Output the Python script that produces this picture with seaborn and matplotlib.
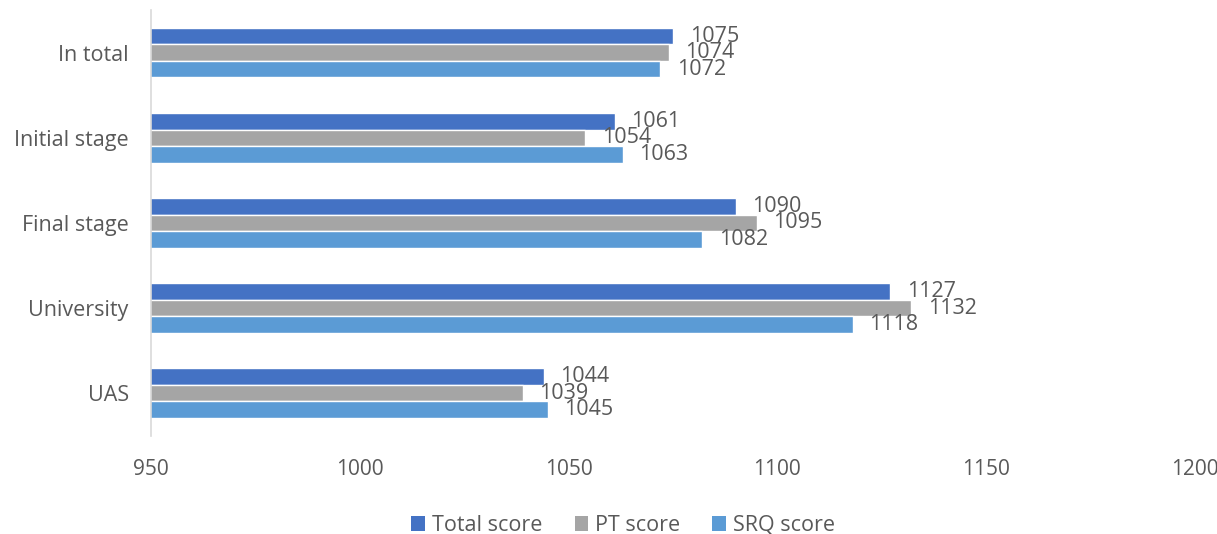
import matplotlib
matplotlib.use("Agg")
import matplotlib.pyplot as plt
import seaborn as sns
import pandas as pd
from matplotlib.patches import Patch

categories = ["In total", "Initial stage", "Final stage", "University", "UAS"]
series = ["Total score", "PT score", "SRQ score"]
total_score = [1075, 1061, 1090, 1127, 1044]
pt_score = [1074, 1054, 1095, 1132, 1039]
srq_score = [1072, 1063, 1082, 1118, 1045]
x_ticks = [950, 1000, 1050, 1100, 1150, 1200]
colors = ["#4472C4", "#A5A5A5", "#5B9BD5"]

rows = []
for name, vals in zip(series, [total_score, pt_score, srq_score]):
    for cat, v in zip(categories, vals):
        rows.append({"category": cat, "series": name, "value": v})
df = pd.DataFrame(rows)

sns.set_theme(style="white")
plt.rcParams["font.family"] = ["Open Sans", "DejaVu Sans"]
text_color = "#595959"
fs = 15.5

fig = plt.figure(figsize=(12.17, 5.34), dpi=100)
ax = fig.add_axes([0.124, 0.184, 0.858, 0.797])

sns.barplot(data=df, x="value", y="category", hue="series", order=categories,
            hue_order=series, palette=colors, orient="h", width=0.58,
            saturation=1, ax=ax, legend=False)

ax.set_xlim(950, 1200)
ax.set_xticks(x_ticks)
ax.set_xticklabels([str(t) for t in x_ticks], fontsize=15, color=text_color)
ax.tick_params(axis="y", labelsize=fs, labelcolor=text_color, length=0, pad=16)
ax.tick_params(axis="x", length=0, pad=17)
ax.set_xlabel("")
ax.set_ylabel("")

for side in ["top", "right", "bottom"]:
    ax.spines[side].set_visible(False)
ax.spines["left"].set_color("#D9D9D9")
ax.spines["left"].set_linewidth(1.2)

for container in ax.containers:
    ax.bar_label(container, fmt="%d", padding=12, fontsize=fs, color=text_color)

handles = [Patch(facecolor=c, edgecolor="none") for c in colors]
fig.legend(handles, series, loc="lower center", bbox_to_anchor=(0.512, -0.04),
           ncol=3, frameon=False, fontsize=fs, handlelength=0.65,
           handleheight=0.65, handletextpad=0.3, columnspacing=1.5,
           labelcolor=text_color)

fig.savefig("out.png", dpi=100, facecolor="white")
